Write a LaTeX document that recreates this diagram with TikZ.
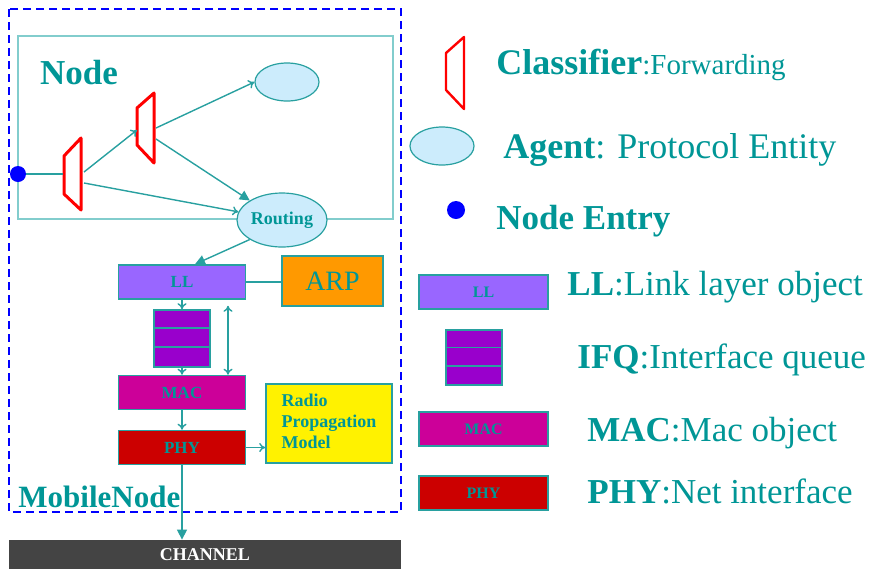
\documentclass[tikz,border=0pt]{standalone}
\usepackage{fontspec}
\setmainfont{Liberation Serif}
\usetikzlibrary{arrows.meta,shapes.geometric}

\definecolor{tealtxt}{RGB}{0,150,150}
\definecolor{tealline}{RGB}{40,160,160}
\definecolor{nodeframe}{RGB}{130,205,205}
\definecolor{agentfill}{RGB}{204,236,252}
\definecolor{llfill}{RGB}{153,102,255}
\definecolor{ifqfill}{RGB}{153,0,204}
\definecolor{macfill}{RGB}{204,0,153}
\definecolor{phyfill}{RGB}{204,0,0}
\definecolor{arpfill}{RGB}{255,153,0}
\definecolor{chanfill}{RGB}{68,68,68}

\tikzset{
  layerbox/.style={draw=tealline, line width=0.8pt, minimum width=63.5pt, minimum height=17pt,
    inner sep=0pt, text=tealtxt, font=\bfseries\fontsize{8.5}{10}\selectfont},
  agentshape/.style={ellipse, draw=tealline, fill=agentfill, line width=0.6pt, inner sep=0pt},
  entrydot/.style={circle, fill=blue, inner sep=0pt},
  classifier/.style={draw=red, line width=1.5pt, line join=round},
  flow/.style={draw=tealline, line width=0.7pt, -{To[length=3pt,width=4.5pt]}},
  bigflow/.style={draw=tealline, line width=0.7pt, -{Triangle[length=5pt,width=5pt]}},
  keytext/.style={anchor=base west, text=tealtxt, inner sep=0pt, font=\fontsize{17.5}{20}\selectfont},
}

\begin{document}
\begin{tikzpicture}[x=0.5pt, y=-0.5pt]
  \useasboundingbox (0,0) rectangle (879,569);

  % MobileNode frame and Node frame
  \draw[blue, line width=1pt, dash pattern=on 4pt off 2.5pt] (9,9) rectangle (401,512);
  \draw[nodeframe, line width=0.8pt] (18,36) rectangle (393,219);
  \node[text=tealtxt, font=\bfseries\fontsize{17.5}{20}\selectfont] (nodetitle) at (79,73) {Node};
  \node[anchor=base west, inner sep=0pt, text=tealtxt, font=\bfseries\fontsize{15.5}{18}\selectfont] (mobiletitle) at (18,507) {MobileNode};

  % Classifiers
  \draw[classifier] (81,138) -- (64,156) -- (64,194) -- (81,210) -- cycle;
  \draw[classifier] (154,93) -- (137,108) -- (137,145) -- (154,163) -- cycle;
  \coordinate (clsAin) at (63,174);
  \coordinate (clsAup) at (84,172);
  \coordinate (clsAdown) at (84,183);
  \coordinate (clsBin) at (137,130);
  \coordinate (clsBup) at (156,128);
  \coordinate (clsBdown) at (156,139);

  % Agents and entry
  \node[agentshape, minimum width=32pt, minimum height=19pt] (agent) at (287,82) {};
  \node[agentshape, minimum width=45pt, minimum height=27pt, text=tealtxt,
        font=\bfseries\fontsize{9}{10}\selectfont] (routing) at (282,220) {Routing};
  \node[entrydot, minimum size=8pt] (entry) at (18,174) {};

  % Layers
  \node[layerbox, fill=llfill] (ll) at (182,282) {LL};
  \node[draw=tealline, line width=0.8pt, fill=arpfill, minimum width=50.5pt, minimum height=25pt,
        inner sep=0pt, text=tealtxt, font=\fontsize{14}{16}\selectfont] (arp) at (332.5,281) {ARP};
  \node[draw=tealline, line width=0.8pt, fill=ifqfill, minimum width=28pt, minimum height=28.5pt,
        inner sep=0pt] (ifq) at (182,338.5) {};
  \foreach \i in {1,2}
    \draw[tealline, line width=0.8pt] ([yshift=-\i*9.5pt]ifq.north west) -- ([yshift=-\i*9.5pt]ifq.north east);
  \node[layerbox, fill=macfill] (mac) at (182,392.5) {MAC};
  \node[layerbox, fill=phyfill] (phy) at (182,447.5) {PHY};
  \node[draw=tealline, line width=0.8pt, fill=yellow, minimum width=63pt, minimum height=39.5pt,
        inner sep=0pt, text=tealtxt, font=\bfseries\fontsize{9}{10.5}\selectfont] (radio) at (329,423.5)
        {\begin{tabular}{@{}l@{}}Radio\\Propagation\\Model\end{tabular}};
  \node[fill=chanfill, minimum width=196pt, minimum height=14.5pt, inner sep=0pt, text=white,
        font=\bfseries\fontsize{9}{10}\selectfont] (channel) at (205,554.5) {CHANNEL};

  % Connectors
  \draw[tealline, line width=0.7pt] (entry) -- (clsAin);
  \draw[flow] (clsAup) -- (clsBin);
  \draw[flow] (clsAdown) -- (routing);
  \draw[flow] (clsBup) -- (agent.west);
  \draw[bigflow] (clsBdown) -- (routing.north west);
  \draw[bigflow] (routing.south west) -- ([xshift=6.5pt]ll.north);
  \draw[tealline, line width=0.7pt] (ll.east) -- (ll.east -| arp.west);
  \draw[flow] (ll.south) -- (ifq.north);
  \draw[flow] (ifq.south) -- (mac.north);
  \draw[draw=tealline, line width=0.7pt, {To[length=3pt,width=4.5pt]}-{To[length=3pt,width=4.5pt]}]
    ([xshift=23pt,yshift=-3pt]ll.south) -- ([xshift=23pt]mac.north);
  \draw[flow] (mac.south) -- (phy.north);
  \draw[flow] (phy.east) -- (phy.east -| radio.west);
  \draw[bigflow] (phy.south) -- (phy.south |- channel.north);

  % Legend
  \draw[classifier, line width=1.2pt] (464,37) -- (446,53) -- (446,90) -- (464,109) -- cycle;
  \node[keytext] (keycls) at (496,74) {\fontsize{18}{20}\selectfont\bfseries Classifier\fontsize{14.5}{16}\selectfont\mdseries:Forwarding};
  \node[agentshape, minimum width=32pt, minimum height=19pt] (keyagent) at (442,146) {};
  \node[keytext] (keyagenttext) at (503,158) {\fontsize{18}{20}\selectfont\textbf{Agent}: Protocol Entity};
  \node[entrydot, minimum size=9pt] (keyentry) at (456,210) {};
  \node[keytext, font=\bfseries\fontsize{17.5}{20}\selectfont] (keyentrytext) at (496,229) {Node Entry};
  \node[layerbox, fill=llfill, minimum width=64.5pt, font=\bfseries\fontsize{8}{10}\selectfont] (keyll) at (483.5,292) {LL};
  \node[keytext] (keylltext) at (567,295) {\textbf{LL}:Link layer object};
  \node[draw=tealline, line width=0.8pt, fill=ifqfill, minimum width=28pt, minimum height=27.5pt,
        inner sep=0pt] (keyifq) at (474,357.5) {};
  \foreach \i in {1,2}
    \draw[tealline, line width=0.8pt] ([yshift=-\i*9.17pt]keyifq.north west) -- ([yshift=-\i*9.17pt]keyifq.north east);
  \node[keytext] (keyifqtext) at (577,368) {\textbf{IFQ}:Interface queue};
  \node[layerbox, fill=macfill, minimum width=64.5pt, font=\bfseries\fontsize{8}{10}\selectfont] (keymac) at (483.5,429) {MAC};
  \node[keytext] (keymactext) at (587,441) {\textbf{MAC}:Mac object};
  \node[layerbox, fill=phyfill, minimum width=64.5pt, font=\bfseries\fontsize{8}{10}\selectfont] (keyphy) at (483.5,493) {PHY};
  \node[keytext] (keyphytext) at (587,503) {\textbf{PHY}:Net interface};
\end{tikzpicture}
\end{document}
